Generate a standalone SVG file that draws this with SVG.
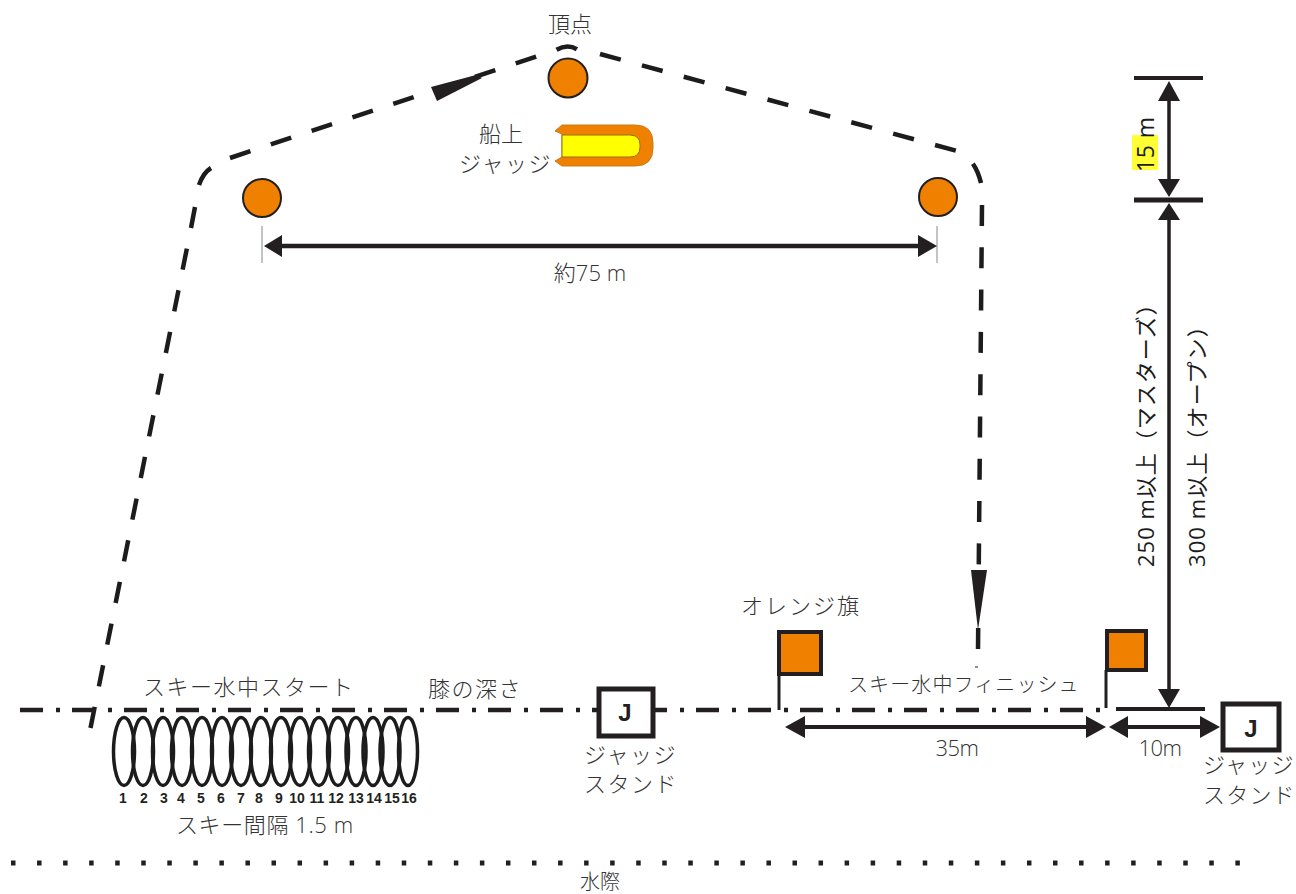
<svg xmlns="http://www.w3.org/2000/svg" width="1296" height="894" viewBox="0 0 1296 894">
<style>
text{font-family:"Open Sans","Noto Sans CJK JP",sans-serif;font-size:22px;font-weight:300;fill:#333}
.m{text-anchor:middle}
.d{fill:#1c1c1c;font-weight:400}
.s{font-size:20px}
.n{font-family:"Liberation Sans",sans-serif;font-size:14px;font-weight:700;fill:#231f20;text-anchor:middle}
.j{font-family:"Liberation Sans",sans-serif;font-size:24px;font-weight:700;fill:#231f20;text-anchor:middle}
.ln{fill:none;stroke:#231f20}
.ar{fill:#231f20;stroke:none}
.crs{fill:none;stroke:#1c1c1c;stroke-width:4.5}
.buoy{fill:#f08000;stroke:#231f20;stroke-width:2}
.flag{fill:#f08000;stroke:#231f20;stroke-width:4}
.box{fill:#fff;stroke:#231f20;stroke-width:5}
.ski{fill:none;stroke:#1c1c1c;stroke-width:3.5}
.tick{fill:none;stroke:#888;stroke-width:1}
</style>
<rect width="1296" height="894" fill="#fff"/>
<g id="connectors">
<path class="crs" stroke-dasharray="21.5 21" d="M90.500,728 L191,228 L195,207"/>
<path class="crs" d="M199,185 Q203,173 211,168"/>
<path class="crs" stroke-dasharray="21.500 21.500" d="M230,158 L556,50 Q568,43 578,50"/>
<path class="crs" stroke-dasharray="21.500 21.900" d="M600,54 L957,151 Q975,158 981,183"/>
<path class="crs" stroke-dasharray="21 21.300" d="M982,205 L978,650"/>
<polygon class="ar" points="431,87 437,101 482,78 476,75"/>
<polygon class="ar" points="971,570 987,570 978,630"/>
<path class="ln" stroke-width="1" d="M975,667 H978"/>
<path id="shoreline" class="ln" stroke-width="4.500" stroke-dasharray="23 13 4 12" d="M20,710 H1105"/>
<path id="waterline" class="ln" stroke-width="5" stroke-dasharray="4.500 21.550" d="M11,863 H1245"/>
<path id="finish-bar" class="ln" stroke-width="4" d="M1116,709 H1205"/>
<path class="tick" d="M262,226 V263 M937,226 V263"/>
<path class="ln" stroke-width="4.500" d="M275,246 H925"/>
<polygon class="ar" points="264,246 282,235 282,257"/>
<polygon class="ar" points="937,246 918,235 918,257"/>
<path class="ln" stroke-width="4" d="M1134,78 H1203"/>
<path class="ln" stroke-width="5" d="M1134,200 H1203"/>
<path class="ln" stroke-width="3.500" d="M1169,90 V190 M1169,210 V695"/>
<polygon class="ar" points="1169,81 1158,101 1180,101"/>
<polygon class="ar" points="1169,197 1158,179 1180,179"/>
<polygon class="ar" points="1169,203 1158,220 1180,220"/>
<polygon class="ar" points="1169,708 1158,689 1180,689"/>
<path class="ln" stroke-width="4" d="M795,727 H1095"/>
<polygon class="ar" points="785,727 805,716 805,738"/>
<polygon class="ar" points="1106,727 1086,716 1086,738"/>
<path class="ln" stroke-width="4" d="M1118,727 H1210"/>
<polygon class="ar" points="1109,727 1128,716 1128,738"/>
<polygon class="ar" points="1220,727 1200,716 1200,738"/>
</g>
<g id="buoy-apex"><circle class="buoy" cx="568" cy="78" r="19.500"/></g>
<g id="buoy-left"><circle class="buoy" cx="262" cy="198" r="19"/></g>
<g id="buoy-right"><circle class="buoy" cx="938" cy="197" r="19"/></g>
<g id="boat">
<path d="M562,125 L555,131 L562,134 V157 L555,161 L562,166 H635 Q653,166 653,148 V143 Q653,125 635,125 Z" fill="#f08000" stroke="#c87a20" stroke-width="1"/>
<path d="M562,135 H630 Q640,135 640,145 V147 Q640,157 630,157 H562 Z" fill="#ffff00" stroke="#a06a10" stroke-width="1"/>
</g>
<g id="skis">
<ellipse class="ski" cx="124" cy="751.500" rx="10.500" ry="34"/>
<ellipse class="ski" cx="143" cy="751.500" rx="10.500" ry="34"/>
<ellipse class="ski" cx="163" cy="751.500" rx="10.500" ry="34"/>
<ellipse class="ski" cx="182" cy="751.500" rx="10.500" ry="34"/>
<ellipse class="ski" cx="202" cy="751.500" rx="10.500" ry="34"/>
<ellipse class="ski" cx="222" cy="751.500" rx="10.500" ry="34"/>
<ellipse class="ski" cx="241" cy="751.500" rx="10.500" ry="34"/>
<ellipse class="ski" cx="261" cy="751.500" rx="10.500" ry="34"/>
<ellipse class="ski" cx="281" cy="751.500" rx="10.500" ry="34"/>
<ellipse class="ski" cx="300" cy="751.500" rx="10.500" ry="34"/>
<ellipse class="ski" cx="319" cy="751.500" rx="10.500" ry="34"/>
<ellipse class="ski" cx="338" cy="751.500" rx="10.500" ry="34"/>
<ellipse class="ski" cx="356" cy="751.500" rx="10" ry="34"/>
<ellipse class="ski" cx="373" cy="751.500" rx="10" ry="34"/>
<ellipse class="ski" cx="390" cy="751.500" rx="10" ry="34"/>
<ellipse class="ski" cx="408" cy="751.500" rx="9.500" ry="34"/>
<text class="n" x="123" y="803">1</text><text class="n" x="144" y="803">2</text><text class="n" x="164" y="803">3</text><text class="n" x="181" y="803">4</text><text class="n" x="201" y="803">5</text><text class="n" x="221" y="803">6</text><text class="n" x="241" y="803">7</text><text class="n" x="259" y="803">8</text><text class="n" x="279" y="803">9</text><text class="n" x="297" y="803">10</text><text class="n" x="317" y="803">11</text><text class="n" x="336" y="803">12</text><text class="n" x="356" y="803">13</text><text class="n" x="374" y="803">14</text><text class="n" x="392" y="803">15</text><text class="n" x="409" y="803">16</text>
</g>
<g id="flag-1"><path class="ln" stroke-width="3" d="M779,674 V710"/><rect class="flag" x="779" y="632" width="42" height="42"/></g>
<g id="flag-2"><path class="ln" stroke-width="3" d="M1106,670 V708"/><rect class="flag" x="1107" y="631" width="39" height="39"/></g>
<g id="stand-1"><rect class="box" x="599" y="689" width="54" height="47"/><text class="j" x="625" y="721">J</text></g>
<g id="stand-2"><rect class="box" x="1223" y="704" width="56" height="46"/><text class="j" x="1251" y="737">J</text></g>
<g id="labels">
<text class="m" x="570" y="32">頂点</text>
<text class="m" x="501" y="142">船上</text>
<text x="459" y="172" letter-spacing="1.500">ジャッジ</text>
<text class="m" x="590" y="281">約75 m</text>
<text x="143" y="695" letter-spacing="1.500">スキー水中スタート</text>
<text x="428" y="697" letter-spacing="1.500">膝の深さ</text>
<text x="741" y="614" letter-spacing="2">オレンジ旗</text>
<text class="s" x="848" y="692" letter-spacing="1.100">スキー水中フィニッシュ</text>
<text class="m" x="957" y="756" letter-spacing="-0.500">35m</text>
<text class="m" x="1160" y="756" letter-spacing="-0.500">10m</text>
<text x="584" y="763" letter-spacing="1.500">ジャッジ</text>
<text x="584" y="792" letter-spacing="1.500">スタンド</text>
<text x="1203" y="773" letter-spacing="1.200">ジャッジ</text>
<text x="1203" y="803" letter-spacing="1.200">スタンド</text>
<text x="176" y="833" letter-spacing="0.600">スキー間隔 1.5 m</text>
<text class="m s" x="600" y="889">水際</text>
<rect x="1132" y="135" width="26" height="35" fill="#ffff33"/>
<text class="d" style="font-size:23px" letter-spacing="0.500" transform="translate(1154,172) rotate(-90)">15 m</text>
<text class="d" letter-spacing="1" transform="translate(1154,567) rotate(-90)">250 m以上（マスターズ）</text>
<text class="d" letter-spacing="1.100" transform="translate(1205,567) rotate(-90)">300 m以上（オープン）</text>
</g>
</svg>
